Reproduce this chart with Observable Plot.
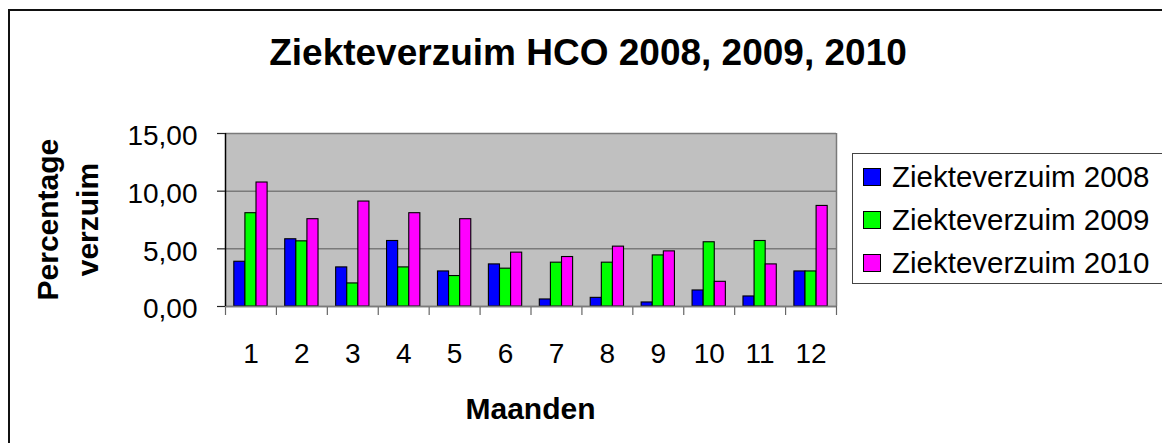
<!DOCTYPE html>
<html><head><meta charset="utf-8">
<script src="https://cdn.jsdelivr.net/npm/d3@7"></script>
<script src="https://cdn.jsdelivr.net/npm/@observablehq/plot@0.6"></script>
<style>
body{margin:0;background:#fff;overflow:hidden;font-family:"Liberation Sans",Arial,sans-serif;color:#000;}
#wrap{position:relative;width:1162px;height:443px;overflow:hidden;}
#border{position:absolute;left:8px;top:9px;width:1300px;height:600px;border:2px solid #111;box-sizing:border-box;}
#chart{position:absolute;left:0;top:0;}
.t{position:absolute;white-space:nowrap;line-height:1;}
#title{left:0;width:1176px;top:33.7px;text-align:center;font-weight:bold;font-size:37px;}
#xlabel{left:0;width:1061px;top:393.9px;text-align:center;font-weight:bold;font-size:30px;}
#ylabel{position:absolute;left:-81.6px;top:179.9px;width:300px;height:79.2px;line-height:39.6px;text-align:center;font-weight:bold;font-size:30px;transform:rotate(-90deg);}
#legend{position:absolute;left:852px;top:153px;width:330px;height:131px;border:1px solid #444;box-sizing:border-box;background:#fff;}
.sw{position:absolute;left:863px;width:18px;height:18px;border:1px solid #000;box-sizing:border-box;}
.lt{position:absolute;left:892px;font-size:29.5px;line-height:1;white-space:nowrap;}
</style></head><body>
<div id="wrap">
  <div id="border"></div>
  <div id="chart"></div>
  <div class="t" id="title"></div>
  <div class="t" id="xlabel"></div>
  <div id="ylabel"></div>
  <div id="legend"></div>
</div>
<script>
const titleText = "Ziekteverzuim HCO 2008, 2009, 2010";
const xLabel = "Maanden";
const yLabelLines = ["Percentage", "verzuim"];
const months = [1, 2, 3, 4, 5, 6, 7, 8, 9, 10, 11, 12];
const series = ["Ziekteverzuim 2008", "Ziekteverzuim 2009", "Ziekteverzuim 2010"];
const v2008 = [3.88, 5.83, 3.39, 5.68, 3.04, 3.65, 0.61, 0.75, 0.35, 1.39, 0.87, 3.04];
const v2009 = [8.09, 5.65, 2.00, 3.39, 2.64, 3.28, 3.80, 3.80, 4.43, 5.57, 5.68, 3.04];
const v2010 = [10.75, 7.57, 9.10, 8.09, 7.57, 4.67, 4.29, 5.19, 4.78, 2.14, 3.65, 8.72];
const colors = ["#0000ff", "#00ff00", "#ff00ff"];
const yTicks = [0, 5, 10, 15];

const values = [v2008, v2009, v2010];
const barW = 0.218;
const groupOff = (1 - series.length * barW) / 2;
const data = [];
months.forEach((m, j) => {
  series.forEach((s, i) => {
    const x1 = m - 0.5 + groupOff + i * barW;
    data.push({month: m, series: s, value: values[i][j], x1, x2: x1 + barW});
  });
});
const boundaries = [...months.map(m => m - 0.5), months[months.length - 1] + 0.5];
const fmt = d => d.toFixed(2).replace(".", ",");

const chart = Plot.plot({
  width: 1162, height: 443,
  marginLeft: 225, marginRight: 326, marginTop: 133, marginBottom: 137,
  style: {fontFamily: "'Liberation Sans', Arial, sans-serif", background: "transparent", overflow: "visible", color: "#000"},
  x: {domain: [0.5, 12.5], axis: null, label: null},
  y: {domain: [0, 15], axis: null, label: null},
  color: {domain: series, range: colors},
  marks: [
    Plot.frame({fill: "#c0c0c0", stroke: null}),
    Plot.ruleY(yTicks, {stroke: "#7a7a7a", strokeWidth: 1.5}),
    Plot.ruleX([12.5], {stroke: "#7a7a7a", strokeWidth: 1.5}),
    Plot.rectY(data, {x1: "x1", x2: "x2", y: "value", fill: "series", stroke: "#000", strokeWidth: 1.1}),
    Plot.axisX({ticks: boundaries, tickSize: 9, tickFormat: () => "", label: null, stroke: "#666", strokeWidth: 1.2}),
    Plot.axisX({ticks: months, tickSize: 0, tickPadding: 37, fontSize: 28, label: null, tickFormat: d => String(d)}),
    Plot.ruleY([0], {x1: 0.5, x2: 12.5, stroke: "#7a7a7a", strokeWidth: 1.5}),
    Plot.ruleX([0.5], {stroke: "#000", strokeWidth: 1.5}),
    Plot.axisY({ticks: yTicks, tickSize: 8, tickFormat: () => "", label: null, stroke: "#222", strokeWidth: 1.2}),
    Plot.axisY({ticks: yTicks, tickSize: 0, tickPadding: 28, fontSize: 28, dy: 3, label: null, tickFormat: fmt})
  ]
});
document.getElementById("chart").appendChild(chart);

document.getElementById("title").textContent = titleText;
document.getElementById("xlabel").textContent = xLabel;
document.getElementById("ylabel").innerHTML = yLabelLines.map(l => `<div>${l}</div>`).join("");

const wrap = document.getElementById("wrap");
const swTop = [168, 211, 254];
const baseY = [187, 230, 273];
series.forEach((s, i) => {
  const sw = document.createElement("div");
  sw.className = "sw";
  sw.style.top = swTop[i] + "px";
  sw.style.background = colors[i];
  wrap.appendChild(sw);
  const t = document.createElement("div");
  t.className = "lt";
  t.style.top = (baseY[i] - 0.8465 * 29.5) + "px";
  t.textContent = s;
  wrap.appendChild(t);
});
</script>
</body></html>
